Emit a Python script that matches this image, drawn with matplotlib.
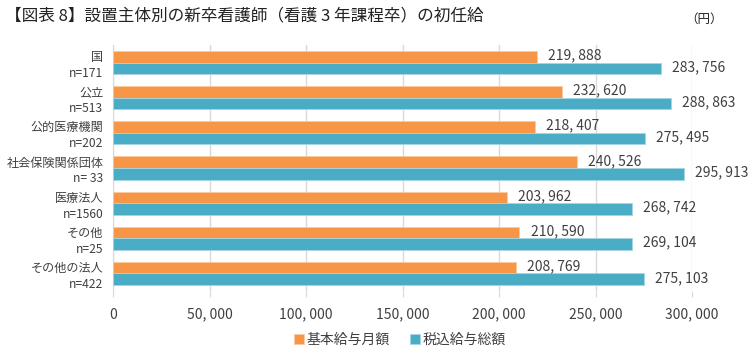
import matplotlib
matplotlib.use('Agg')
import matplotlib.pyplot as plt
import numpy as np

plt.rcParams['font.family'] = ['Noto Sans CJK JP', 'DejaVu Sans']

# data
categories = ['国', '公立', '公的医療機関', '社会保険関係団体', '医療法人', 'その他', 'その他の法人']
counts = ['n=171', 'n=513', 'n=202', 'n= 33', 'n=1560', 'n=25', 'n=422']
basic_pay = [219888, 232620, 218407, 240526, 203962, 210590, 208769]
total_pay = [283756, 288863, 275495, 295913, 268742, 269104, 275103]
series_names = ['基本給与月額', '税込給与総額']
xticks = [0, 50000, 100000, 150000, 200000, 250000, 300000]

ORANGE = '#F79646'
BLUE = '#4BACC6'
TEXT = '#404040'


def fmt(v):
    return f'{v:,}'.replace(',', ', ')


fig = plt.figure(figsize=(7.56, 3.62), dpi=100)
ax = fig.add_axes([113 / 756, 1 - 291 / 362, (692 - 113) / 756, (291 - 45) / 362])

y = np.arange(len(categories))
h = 0.33
b1 = ax.barh(y - h / 2, basic_pay, height=h, color=ORANGE, edgecolor='#FBC9A0', linewidth=0.6,
             label=series_names[0], zorder=3)
b2 = ax.barh(y + h / 2, total_pay, height=h, color=BLUE, edgecolor='#A5D6E3', linewidth=0.6,
             label=series_names[1], zorder=3)

# value labels just past the end of each bar
for bars, vals in ((b1, basic_pay), (b2, total_pay)):
    for bar, v in zip(bars, vals):
        ax.annotate(fmt(v), (v, bar.get_y() + bar.get_height() / 2), xytext=(8, 1),
                    textcoords='offset points', ha='left', va='center',
                    fontsize=10, color=TEXT, zorder=4)

ax.set_ylim(len(categories) - 0.5, -0.5)
ax.set_xlim(0, 300000)
ax.set_yticks(y)
ax.set_yticklabels([f'{c}\n{n}' for c, n in zip(categories, counts)],
                   fontsize=8.7, color=TEXT, linespacing=1.3)
ax.set_xticks(xticks)
ax.set_xticklabels([fmt(t) for t in xticks], fontsize=10, color=TEXT)
ax.tick_params(axis='y', length=0, pad=7)
ax.tick_params(axis='x', length=4, color='#D9D9D9', pad=8)
ax.grid(axis='x', color='#D9D9D9', linewidth=1, zorder=0)
for s in ('top', 'right', 'bottom'):
    ax.spines[s].set_visible(False)
ax.spines['left'].set_color('#D9D9D9')

fig.text(5 / 756, 1 - 16 / 362, '【図表 8】設置主体別の新卒看護師（看護 3 年課程卒）の初任給',
         fontsize=12, color='#222222', ha='left', va='center')
fig.text(685 / 756, 1 - 19 / 362, '（円）', fontsize=9, color='#222222', ha='left', va='center')

fig.legend(loc='center', bbox_to_anchor=(400 / 756, 1 - 340 / 362), ncol=2, frameon=False,
           fontsize=10, handlelength=0.7, handleheight=0.7, handletextpad=0.2,
           columnspacing=1.5, labelcolor=TEXT)

fig.savefig('out.png', dpi=100)
